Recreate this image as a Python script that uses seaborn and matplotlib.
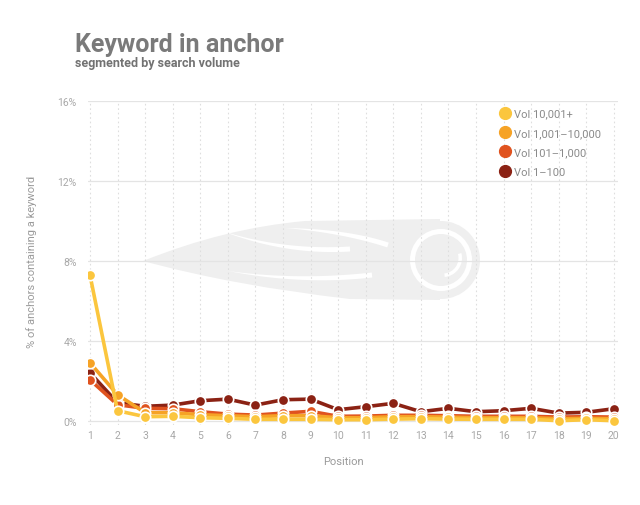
import numpy as np
import pandas as pd
import matplotlib
matplotlib.use("Agg")
import matplotlib.pyplot as plt
import matplotlib.transforms as mtransforms
from matplotlib.patches import Circle, Wedge, PathPatch, Polygon
from matplotlib.path import Path
from matplotlib.lines import Line2D
import seaborn as sns

positions = list(range(1, 21))
series_names = ["Vol 10,001+", "Vol 1,001\u201310,000", "Vol 101\u20131,000", "Vol 1\u2013100"]
vol_10001 = [7.3, 0.5, 0.2, 0.22, 0.15, 0.12, 0.07, 0.07, 0.07, 0.05,
             0.05, 0.08, 0.1, 0.08, 0.07, 0.07, 0.07, 0.0, 0.05, 0.0]
vol_1001 = [2.9, 1.3, 0.4, 0.4, 0.3, 0.25, 0.2, 0.25, 0.25, 0.15,
            0.15, 0.2, 0.2, 0.18, 0.15, 0.15, 0.15, 0.1, 0.12, 0.1]
vol_101 = [2.05, 0.8, 0.62, 0.6, 0.45, 0.33, 0.28, 0.38, 0.47, 0.22,
           0.23, 0.27, 0.27, 0.25, 0.22, 0.22, 0.22, 0.18, 0.2, 0.18]
vol_1 = [2.4, 0.9, 0.72, 0.78, 1.0, 1.08, 0.78, 1.05, 1.08, 0.55,
         0.7, 0.87, 0.45, 0.62, 0.45, 0.5, 0.62, 0.38, 0.42, 0.6]
colors = ["#fbc63e", "#f6a326", "#e0531f", "#8b2214"]
y_ticks = [0, 4, 8, 12, 16]

df = pd.DataFrame({
    "Position": positions * 4,
    "pct": vol_10001 + vol_1001 + vol_101 + vol_1,
    "Volume": sum([[n] * len(positions) for n in series_names], []),
})

sns.set_style("white")
plt.rcParams["font.family"] = ["Roboto", "DejaVu Sans"]

W, H = 640, 506
fig = plt.figure(figsize=(W / 100, H / 100), dpi=100)
ax = fig.add_axes([88 / W, 1 - 425.7 / H, 530 / W, 323.7 / H])

# pixel coords (y from top) -> figure
px = mtransforms.Affine2D().scale(1 / W, -1 / H).translate(0, 1) + fig.transFigure

# faint watermark logo (behind the grid)
logo = "#efefef"

def put(patch, z):
    patch.set_transform(px)
    patch.set_clip_on(False)
    patch.set_zorder(z)
    ax.add_artist(patch)

def streak(p0, c, p1, w):
    t = np.linspace(0, 1, 30)[:, None]
    p0, c, p1 = map(np.array, (p0, c, p1))
    pts = (1 - t) ** 2 * p0 + 2 * (1 - t) * t * c + t ** 2 * p1
    d = np.gradient(pts, axis=0)
    n = np.c_[-d[:, 1], d[:, 0]] / np.hypot(d[:, 0], d[:, 1])[:, None]
    half = (w / 2) * np.sin(np.pi * t * 0.5)
    return Polygon(np.r_[pts + n * half, (pts - n * half)[::-1]], fc="white", ec="none")

body = Path([(143, 262), (225, 229), (305, 222), (440, 220),
             (440, 301), (350, 300), (235, 287), (143, 262), (143, 262)],
            [Path.MOVETO, Path.CURVE3, Path.CURVE3, Path.LINETO,
             Path.LINETO, Path.LINETO, Path.CURVE3, Path.CURVE3, Path.CLOSEPOLY])
put(PathPatch(body, fc=logo, ec="none"), 0.2)
put(streak((222, 232), (285, 254), (350, 250), 5), 0.21)
put(streak((285, 229), (345, 232), (388, 246), 5), 0.21)
put(streak((228, 272), (300, 284), (372, 276), 5), 0.21)
put(Circle((441, 261), 39, fc=logo, ec="none"), 0.22)
put(Circle((441, 261), 31, fc="white", ec="none"), 0.23)
put(Circle((441, 261), 26, fc=logo, ec="none"), 0.24)
put(Wedge((443, 259), 19, -15, 85, width=3.5, fc="white", ec="none"), 0.25)

order = series_names[::-1]
sns.lineplot(data=df, x="Position", y="pct", hue="Volume", hue_order=order,
             palette=dict(zip(series_names, colors)), marker="o", markersize=7.5,
             markeredgecolor="white", markeredgewidth=1.2, linewidth=2.6,
             legend=False, ax=ax, zorder=3)

ax.set_xlim(0.93, 20.15)
ax.set_ylim(-0.2, 16)
ax.set_xticks(positions)
ax.set_yticks(y_ticks)
ax.set_yticklabels([f"{t}%" for t in y_ticks])
ax.tick_params(length=0, labelsize=7.5, labelcolor="#a8a8a8")
ax.tick_params(axis="y", pad=8)
ax.tick_params(axis="x", pad=4)
for s in ax.spines.values():
    s.set_visible(False)

for t in y_ticks:
    ax.axhline(t, color="#e4e4e4", lw=0.9, zorder=0.5)
for p in positions:
    ax.axvline(p, color="#dedede", lw=0.8, ls=(0, (1.5, 2.5)), zorder=0.4)

ax.set_xlabel("Position", fontsize=8, color="#9a9a9a")
ax.set_ylabel("% of anchors containing a keyword", fontsize=8, color="#9a9a9a")
ax.xaxis.set_label_coords((343 - 88) / 530, (425.7 - 457) / 323.7)
ax.yaxis.set_label_coords((37 - 88) / 530, (425.7 - 262) / 323.7)

fig.text(75 / W, 1 - 52 / H, "Keyword in anchor", fontsize=18, fontweight="bold",
         color="#7a7a7a", va="baseline", ha="left")
fig.text(75 / W, 1 - 66.5 / H, "segmented by search volume", fontsize=9,
         fontweight="bold", color="#727272", va="baseline", ha="left")

handles = [Line2D([], [], marker="o", linestyle="", color=c, markersize=8.5)
           for c in colors]
leg = fig.legend(handles, series_names, loc="upper left",
                 bbox_to_anchor=(494 / W, 1 - 105 / H), frameon=False,
                 fontsize=8, labelspacing=0.85, handletextpad=0.2,
                 handlelength=1.2, borderaxespad=0)
for t in leg.get_texts():
    t.set_color("#8a8a8a")

fig.savefig("out.png", dpi=100, facecolor="white")
